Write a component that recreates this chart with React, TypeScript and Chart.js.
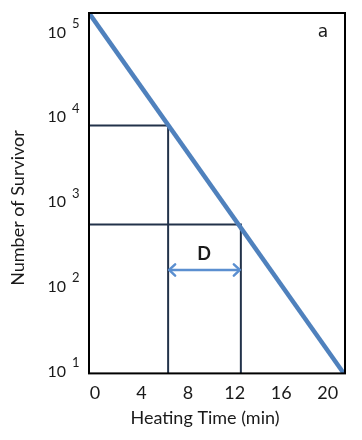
import { useEffect, useRef } from "react";
import { Chart, registerables } from "chart.js";

Chart.register(...registerables);

// ---- data ----
const xTicks = [0, 4, 8, 12, 16, 20];
const yTickExponents = [1, 2, 3, 4, 5];
const survivorTime = [0, 21.9];
const survivorCount = [169000, 9.7];
const firstLineTime = [0, 6.8, 6.8];
const firstLineCount = [8000, 8000, 9.7];
const secondLineTime = [0, 13.05, 13.05];
const secondLineCount = [550, 550, 9.7];
const arrowTime = [6.8, 13.05];
const arrowCount = [160, 160];
const dLabelTime = 9.9;
const dLabelCount = 245;
const panelLabel = "a";
const xTitle = "Heating Time (min)";
const yTitle = "Number of Survivor";

const FONT = "Lato, 'Open Sans', sans-serif";
const TEXT = "#1a1a1a";

const pts = (xs: number[], ys: number[]) => xs.map((x, i) => ({ x, y: ys[i] }));

const overlay = {
  id: "overlay",
  afterDatasetsDraw(chart: any) {
    const { ctx, chartArea: a, scales } = chart;
    const xs = scales.x;
    const ys = scales.y;
    ctx.save();
    // frame
    ctx.strokeStyle = "#000";
    ctx.lineWidth = 2;
    ctx.strokeRect(a.left, a.top, a.right - a.left, a.bottom - a.top);

    // arrow heads
    const y = ys.getPixelForValue(arrowCount[0]);
    const x1 = xs.getPixelForValue(arrowTime[0]);
    const x2 = xs.getPixelForValue(arrowTime[1]);
    ctx.strokeStyle = "#5b8fd0";
    ctx.lineWidth = 2.5;
    ctx.lineCap = "round";
    ctx.lineJoin = "round";
    const h = 7;
    ctx.beginPath();
    ctx.moveTo(x1 + h, y - h * 0.8);
    ctx.lineTo(x1 + 1, y);
    ctx.lineTo(x1 + h, y + h * 0.8);
    ctx.moveTo(x2 - h, y - h * 0.8);
    ctx.lineTo(x2 - 1, y);
    ctx.lineTo(x2 - h, y + h * 0.8);
    ctx.stroke();

    // D label
    ctx.fillStyle = "#1a1a1a";
    ctx.font = `bold 18px ${FONT}`;
    ctx.textAlign = "center";
    ctx.textBaseline = "middle";
    ctx.fillText("D", xs.getPixelForValue(dLabelTime), ys.getPixelForValue(dLabelCount));

    // panel label
    ctx.font = `17px 'DejaVu Sans', sans-serif`;
    ctx.fillStyle = TEXT;
    ctx.fillText(panelLabel, a.right - 22, a.top + 20);

    // y tick labels (10^n)
    for (const e of yTickExponents) {
      const py = ys.getPixelForValue(Math.pow(10, e));
      ctx.font = `16px ${FONT}`;
      ctx.textAlign = "right";
      ctx.textBaseline = "middle";
      ctx.fillStyle = TEXT;
      ctx.fillText("10", a.left - 23, py);
      ctx.font = `13px ${FONT}`;
      ctx.textAlign = "left";
      ctx.fillText(String(e), a.left - 17, py - 9);
    }

    // axis titles
    ctx.font = `18px ${FONT}`;
    ctx.textAlign = "center";
    ctx.textBaseline = "middle";
    ctx.fillText(xTitle, a.left + 116, 418);
    ctx.translate(18, 208);
    ctx.rotate(-Math.PI / 2);
    ctx.fillText(yTitle, 0, 0);
    ctx.restore();
  },
};

export default function App() {
  const ref = useRef<HTMLCanvasElement>(null);
  useEffect(() => {
    document.body.style.margin = "0";
    if (!ref.current) return;
    const chart = new Chart(ref.current, {
      type: "line",
      data: {
        datasets: [
          {
            data: pts(survivorTime, survivorCount),
            borderColor: "#4f81bd",
            borderWidth: 4.5,
            pointRadius: 0,
            order: 0,
          },
          {
            data: pts(firstLineTime, firstLineCount),
            borderColor: "#22324a",
            borderWidth: 2,
            pointRadius: 0,
            order: 1,
          },
          {
            data: pts(secondLineTime, secondLineCount),
            borderColor: "#22324a",
            borderWidth: 2,
            pointRadius: 0,
            order: 2,
          },
          {
            data: pts(arrowTime, arrowCount),
            borderColor: "#5b8fd0",
            borderWidth: 2.5,
            pointRadius: 0,
            order: 3,
          },
        ],
      },
      options: {
        animation: false,
        responsive: false,
        layout: { padding: { left: 89, right: 17, top: 13, bottom: 27 } },
        plugins: { legend: { display: false }, tooltip: { enabled: false } },
        scales: {
          x: {
            type: "linear",
            min: 0,
            max: 22,
            afterBuildTicks: (s: any) => {
              s.ticks = xTicks.map((v) => ({ value: v }));
            },
            grid: { display: false, drawTicks: false },
            border: { display: false },
            ticks: {
              labelOffset: 6,
              padding: 9,
              color: TEXT,
              font: { family: FONT, size: 18 },
            },
          },
          y: {
            type: "logarithmic",
            min: 9.7,
            max: 169000,
            display: false,
          },
        },
      },
      plugins: [overlay],
    });
    return () => chart.destroy();
  }, []);
  return <canvas ref={ref} width={362} height={440} style={{ display: "block" }} />;
}
